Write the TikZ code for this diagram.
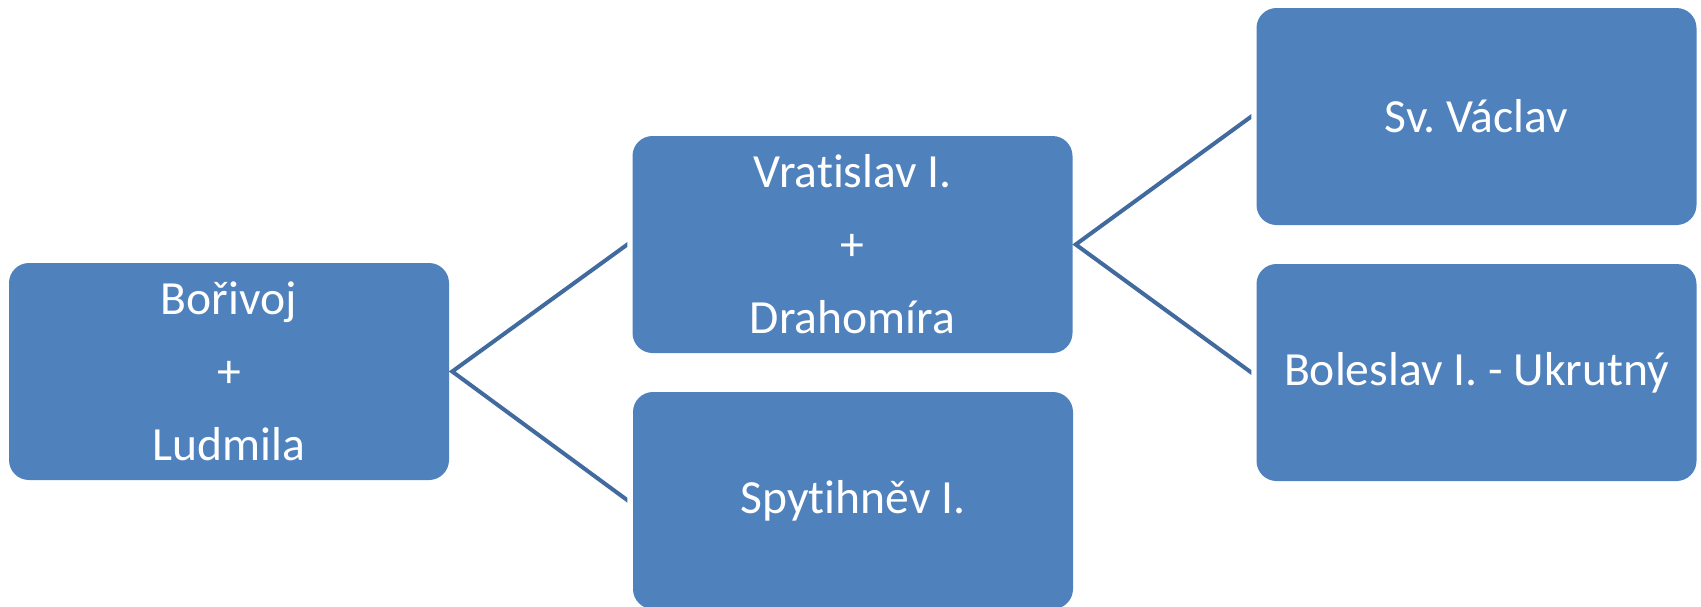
\documentclass[tikz,border=0pt]{standalone}
\usepackage{fontspec}
\setmainfont{Carlito}[Ligatures={NoCommon}]
\frenchspacing
\usetikzlibrary{calc}
\definecolor{boxblue}{HTML}{4F81BD}
\definecolor{linkblue}{HTML}{416A9E}
\begin{document}
\begin{tikzpicture}[x=1pt,y=-1pt,
  person/.style={rectangle, fill=boxblue, rounded corners=20pt,
    minimum width=440pt, minimum height=217pt, inner sep=0pt,
    text=white, align=center, font=\fontsize{47.6}{73}\selectfont},
  link/.style={draw=linkblue, line width=4pt, line join=miter}]
\useasboundingbox (0,0) rectangle (1701,606);
\node[person] (B)  at (229,371.5)   {Bořivoj\\+\\Ludmila};
\node[person] (V)  at (852.5,244.5) {Vratislav I.\\+\\Drahomíra};
\node[person] (S)  at (853,500.5)   {Spytihněv I.};
\node[person] (SV) at (1476.5,116.5){Sv. Václav};
\node[person] (BL) at (1476.5,372.5){Boleslav I. - Ukrutný};
\coordinate (b0) at ($(B.east)+(3,0)$);
\coordinate (b1) at ($(V.west)+(-5,0)$);
\coordinate (b2) at ($(S.west)+(-5,0)$);
\coordinate (v0) at ($(V.east)+(3,0)$);
\coordinate (v1) at ($(SV.west)+(-5,0)$);
\coordinate (v2) at ($(BL.west)+(-5,0)$);
\begin{scope}
\clip (b0) ++(-20,-300) rectangle ($(b1)+(0,600)$);
\draw[link] ($(b0)!1.05!(b1)$) -- (b0) -- ($(b0)!1.05!(b2)$);
\end{scope}
\begin{scope}
\clip (v0) ++(-20,-300) rectangle ($(v1)+(0,600)$);
\draw[link] ($(v0)!1.05!(v1)$) -- (v0) -- ($(v0)!1.05!(v2)$);
\end{scope}
\end{tikzpicture}
\end{document}
